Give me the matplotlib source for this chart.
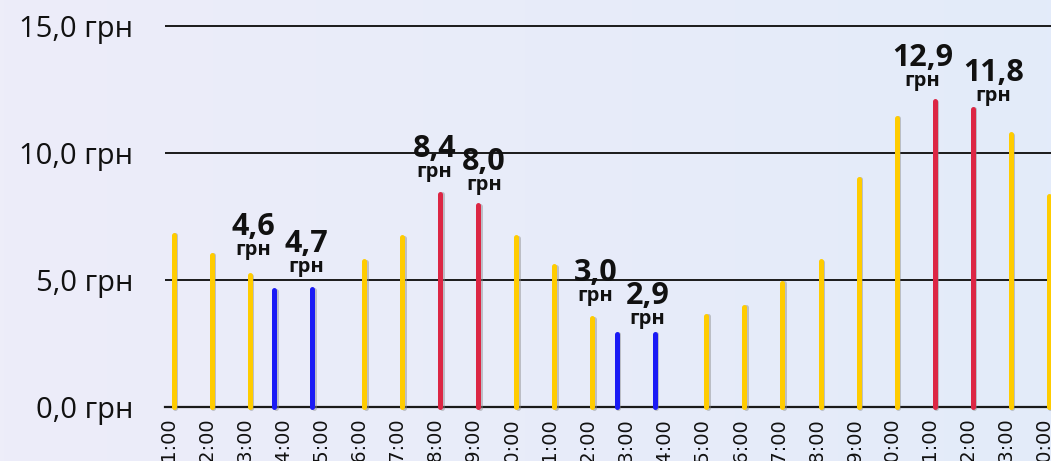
import numpy as np
import matplotlib
matplotlib.use("Agg")
from matplotlib import pyplot as plt
from matplotlib.colors import LinearSegmentedColormap
import matplotlib.patheffects as pe

# hourly prices, грн
hours = ["01:00", "02:00", "03:00", "04:00", "05:00", "06:00", "07:00", "08:00",
         "09:00", "10:00", "11:00", "12:00", "13:00", "14:00", "15:00", "16:00",
         "17:00", "18:00", "19:00", "20:00", "21:00", "22:00", "23:00", "00:00"]
prices = [6.8, 6.0, 5.2, 4.6, 4.65, 5.75, 6.7, 8.4, 7.95, 6.7, 5.55, 3.5,
          2.9, 2.9, 3.6, 3.95, 4.9, 5.75, 9.0, 11.4, 12.05, 11.75, 10.75, 8.3]
# 0 = normal, 1 = cheap, 2 = expensive
kind = [0, 0, 0, 1, 1, 0, 0, 2, 2, 0, 0, 0,
        1, 1, 0, 0, 0, 0, 0, 0, 2, 2, 0, 0]
# price labels over cheapest / dearest hours
label_idx = [3, 4, 7, 8, 12, 13, 20, 21]
label_txt = ["4,6", "4,7", "8,4", "8,0", "3,0", "2,9", "12,9", "11,8"]
y_ticks = [0, 5, 10, 15]
y_tick_labels = ["0,0 грн", "5,0 грн", "10,0 грн", "15,0 грн"]

colors = {0: "#FFCC00", 1: "#1A1AF5", 2: "#DC2644"}
shift = {0: 0.12, 1: -0.24, 2: 0.12}
# label placement (pixels from bar top), to keep them from overlapping
label_off = [(-21, 26), (-6, 8), (-6, 8), (6, 6), (-21, 24), (-7, 1), (-12, 6), (21, -1)]

fig = plt.figure(figsize=(10.51, 4.61), dpi=100)

# background gradient
bg = fig.add_axes([0, 0, 1, 1], zorder=-10)
cmap = LinearSegmentedColormap.from_list("bg", ["#EDEDF9", "#E3EBFA"])
bg.imshow(np.linspace(0, 1, 256).reshape(1, -1), aspect="auto", cmap=cmap, extent=[0, 1, 0, 1])
bg.set_axis_off()

ax = fig.add_axes([165/1051, 53.7/461, 1 - 165/1051, 0.9705 - 53.7/461])
ax.set_facecolor("none")

x = np.arange(len(prices))
xs = np.array([i + shift[k] for i, k in zip(x, kind)])

for k in (0, 1, 2):
    m = np.array(kind) == k
    ax.vlines(xs[m], 0, np.array(prices)[m], colors=colors[k], linewidth=3.6,
              capstyle="round", zorder=3, clip_on=False,
              path_effects=[pe.SimpleLineShadow(offset=(1.0, -0.3), shadow_color="#888888", alpha=0.45),
                            pe.Normal()])

for i, t, (dx, dy) in zip(label_idx, label_txt, label_off):
    ax.annotate("грн", (xs[i], prices[i]), xytext=(dx, dy + 4), textcoords="offset pixels",
                ha="center", va="bottom", fontsize=14.5, fontweight="bold",
                family="Open Sans", color="#111111", zorder=5, annotation_clip=False)
    ax.annotate(t, (xs[i], prices[i]), xytext=(dx, dy + 25 + 4), textcoords="offset pixels",
                ha="center", va="baseline", fontsize=22, fontweight="bold",
                family="Open Sans", color="#111111", zorder=5, annotation_clip=False)

ax.set_xlim(-0.116, 23.18)
ax.set_ylim(0, 15.5)
ax.set_xticks(x)
ax.set_xticklabels(hours, rotation=90, fontsize=14, family="DejaVu Sans", color="#111111")
ax.set_yticks(y_ticks)
ax.set_yticklabels(y_tick_labels, fontsize=21, family="Open Sans", color="#111111")
ax.tick_params(axis="x", length=0, pad=7)
ax.tick_params(axis="y", length=0, pad=23)
ax.yaxis.grid(True, color="#1a1a1a", linewidth=1.4, zorder=1)
ax.set_axisbelow(True)
for s in ("top", "right", "left"):
    ax.spines[s].set_visible(False)
ax.spines["bottom"].set_color("#1a1a1a")
ax.spines["bottom"].set_linewidth(1.6)

fig.savefig("out.png", dpi=100)
